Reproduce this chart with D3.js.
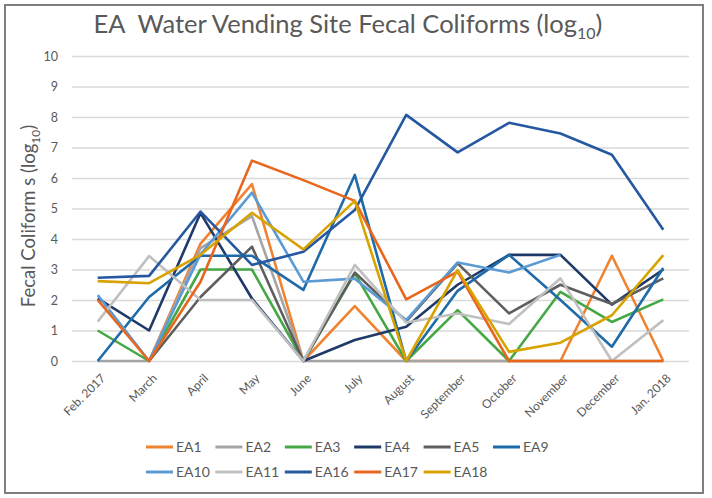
<!DOCTYPE html>
<html><head><meta charset="utf-8">
<script src="https://cdn.jsdelivr.net/npm/d3@7"></script>
<style>
html,body{margin:0;padding:0;background:#fff;}
svg{display:block;font-family:Lato,"Open Sans",sans-serif;}
</style></head>
<body>
<svg id="chart" width="712" height="498"></svg>
<script>
const months = ["Feb. 2017","March","April","May","June","July","August","September","October","November","December","Jan. 2018"];
const yTicks = [0,1,2,3,4,5,6,7,8,9,10];
const seriesNames = ["EA1","EA2","EA3","EA4","EA5","EA9","EA10","EA11","EA16","EA17","EA18"];
const seriesColors = ["#f08331","#a5a5a5","#45a845","#1f3a68","#5e5e5e","#1f6aa8","#5b9bd5","#c0c0c0","#2558a0","#e9661d","#d8a300"];
const EA1  = [null,0,3.85,5.8,0,1.8,0,0,0,0,3.45,0];
const EA2  = [0,0,3.7,4.75,0,0,0,0,0,0,0,0];
const EA3  = [1.0,0,3.0,3.0,0,2.87,0,1.67,0,2.27,1.28,2.02];
const EA4  = [2.05,1.0,4.85,2.05,0,0.69,1.12,2.5,3.48,3.48,1.85,3.0];
const EA5  = [null,0,2.1,3.75,0,2.9,1.3,3.2,1.56,2.5,1.87,2.71];
const EA9  = [0,2.1,3.45,3.45,2.33,6.1,0,2.3,3.48,2.0,0.47,3.05];
const EA10 = [2.16,0,3.5,5.52,2.6,2.7,1.34,3.23,2.9,3.48,null,null];
const EA11 = [1.29,3.44,2.0,2.0,0,3.15,1.26,1.56,1.21,2.71,0,1.34];
const EA16 = [2.73,2.79,4.9,3.15,3.58,4.95,8.07,6.84,7.81,7.46,6.76,4.3];
const EA17 = [2.0,0,2.6,6.57,5.93,5.25,2.02,2.93,0,0,0,0];
const EA18 = [2.62,2.55,3.48,4.86,3.66,5.25,0,2.98,0.3,0.6,1.5,3.47];
const seriesValues = [EA1,EA2,EA3,EA4,EA5,EA9,EA10,EA11,EA16,EA17,EA18];

const svg = d3.select("#chart");
const textColor = "#595959";

// outer frame
svg.append("rect").attr("x",5).attr("y",5).attr("width",698).attr("height",488)
  .attr("fill","#fff").attr("stroke","#7f7f7f").attr("stroke-width",2);

const plot = {left:72, right:689, top:56, bottom:361};
const x = d3.scalePoint().domain(months).range([plot.left, plot.right]).padding(0.5);
const y = d3.scaleLinear().domain([0,10]).range([plot.bottom, plot.top]);

// title
const title = svg.append("text").attr("x",348).attr("y",33).attr("text-anchor","middle")
  .attr("fill",textColor).style("font-size","25.5px").style("white-space","pre");
title.append("tspan").text("EA  Water Vending Site Fecal Coliforms (log");
title.append("tspan").attr("dy",6).style("font-size","16px").text("10");
title.append("tspan").attr("dy",-6).text(")");

// gridlines
const yAxis = d3.axisLeft(y).tickValues(yTicks).tickSize(-(plot.right-plot.left)).tickPadding(14);
const gy = svg.append("g").attr("transform",`translate(${plot.left},0)`).call(yAxis);
gy.select(".domain").remove();
gy.selectAll(".tick line").attr("stroke","#d9d9d9").attr("stroke-width",1.5);
gy.selectAll(".tick text").attr("fill",textColor).style("font-size","12.5px").style("font-family","Lato,sans-serif");

// x axis labels
const xAxis = d3.axisBottom(x).tickSize(0).tickPadding(0);
const gx = svg.append("g").attr("transform",`translate(0,${plot.bottom})`).call(xAxis);
gx.select(".domain").remove();
gx.selectAll(".tick text").attr("fill",textColor).style("font-size","12px").style("font-family","Lato,sans-serif")
  .attr("text-anchor","end").attr("dy",0).attr("y",0)
  .attr("transform","translate(8,18) rotate(-45)");

// y axis title
const yl = svg.append("text").attr("transform","translate(35,216) rotate(-90)")
  .attr("text-anchor","middle").attr("fill",textColor).style("font-size","18.5px");
yl.append("tspan").text("Fecal Coliform s (log");
yl.append("tspan").attr("dy",5).style("font-size","12px").text("10");
yl.append("tspan").attr("dy",-5).text(")");

// lines
const line = d3.line().defined(d => d.v != null).x(d => x(d.m)).y(d => y(d.v));
seriesNames.forEach((name,i) => {
  const data = months.map((m,j) => ({m, v: seriesValues[i][j]}));
  svg.append("path").datum(data).attr("d",line).attr("fill","none")
    .attr("stroke",seriesColors[i]).attr("stroke-width",2.6).attr("stroke-linejoin","round");
});

// legend
const legendRows = [[0,1,2,3,4,5],[6,7,8,9,10]];
legendRows.forEach((row,r) => {
  row.forEach((idx,c) => {
    const lx = 146 + c*69.4, ly = 447 + r*25;
    svg.append("line").attr("x1",lx).attr("x2",lx+27).attr("y1",ly).attr("y2",ly)
      .attr("stroke",seriesColors[idx]).attr("stroke-width",3);
    svg.append("text").attr("x",lx+30).attr("y",ly+5).attr("fill",textColor)
      .style("font-size","14px").text(seriesNames[idx]);
  });
});
</script>
</body></html>
